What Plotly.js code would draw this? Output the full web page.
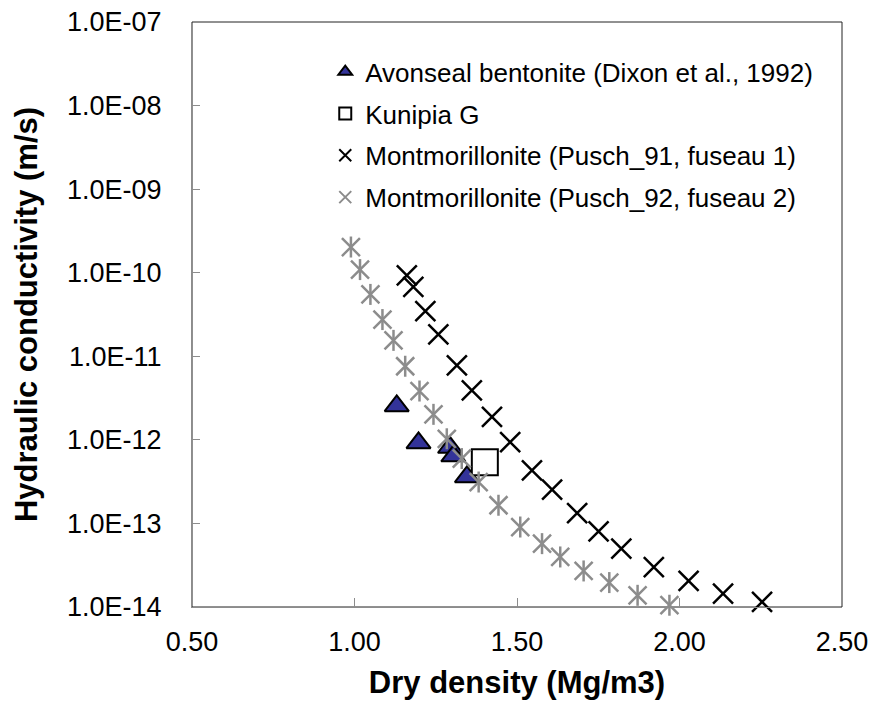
<!DOCTYPE html>
<html><head><meta charset="utf-8">
<script src="https://cdn.plot.ly/plotly-3.0.1.min.js"></script>
<style>body{margin:0;background:#fff}#chart{width:872px;height:702px}</style>
</head><body><div id="chart"></div>
<script>
// Avonseal bentonite (Dixon et al., 1992)
const avonsealDensity = [1.130, 1.197, 1.294, 1.304, 1.346];
const avonsealK = [2.55e-12, 9.2e-13, 8.1e-13, 6.4e-13, 3.6e-13];
// Kunipia G
const kunipiaDensity = [1.401];
const kunipiaK = [5.4e-13];
// Montmorillonite (Pusch_91, fuseau 1)
const pusch91Density = [1.161, 1.181, 1.218, 1.258, 1.315, 1.361, 1.423, 1.479, 1.546, 1.608, 1.685, 1.751, 1.821, 1.921, 2.028, 2.134, 2.254];
const pusch91K = [9.3e-11, 6.75e-11, 3.48e-11, 1.83e-11, 7.8e-12, 3.92e-12, 1.88e-12, 9.4e-13, 4.32e-13, 2.54e-13, 1.33e-13, 8.05e-14, 5.0e-14, 3.01e-14, 2.05e-14, 1.45e-14, 1.15e-14];
// Montmorillonite (Pusch_92, fuseau 2)
const pusch92Density = [0.989, 1.017, 1.049, 1.086, 1.120, 1.156, 1.200, 1.243, 1.284, 1.330, 1.382, 1.443, 1.510, 1.577, 1.633, 1.705, 1.784, 1.871, 1.969];
const pusch92K = [2.03e-10, 1.09e-10, 5.5e-11, 2.75e-11, 1.55e-11, 7.6e-12, 3.84e-12, 2.02e-12, 1.03e-12, 5.97e-13, 3.13e-13, 1.65e-13, 9.06e-14, 5.73e-14, 3.97e-14, 2.70e-14, 1.96e-14, 1.38e-14, 1.05e-14];

const seriesNames = ['Avonseal bentonite (Dixon et al., 1992)', 'Kunipia G', 'Montmorillonite (Pusch_91, fuseau 1)', 'Montmorillonite (Pusch_92, fuseau 2)'];
const yTickVals = [1e-7, 1e-8, 1e-9, 1e-10, 1e-11, 1e-12, 1e-13, 1e-14];
const yTickText = ['1.0E-07', '1.0E-08', '1.0E-09', '1.0E-10', '1.0E-11', '1.0E-12', '1.0E-13', '1.0E-14'];
const xTickVals = [0.5, 1.0, 1.5, 2.0, 2.5];
const xTickText = ['0.50', '1.00', '1.50', '2.00', '2.50'];

const FONT = 'Liberation Sans, Arial, sans-serif';
const GRAY = '#8c8c8c';

const traces = [
  {x: avonsealDensity, y: avonsealK, name: seriesNames[0], type: 'scatter', mode: 'markers', legendgroup: 'a',
   cliponaxis: false,
   marker: {symbol: 'triangle-up', size: 21, color: '#333399', line: {color: '#000', width: 2}}},
  {x: kunipiaDensity, y: kunipiaK, name: seriesNames[1], type: 'scatter', mode: 'markers', legendgroup: 'b',
   cliponaxis: false,
   marker: {symbol: 'square', size: 26, color: '#fff', line: {color: '#000', width: 2}}},
  {x: pusch91Density, y: pusch91K, name: seriesNames[2], type: 'scatter', mode: 'markers', legendgroup: 'c',
   cliponaxis: false,
   marker: {symbol: 'x-thin', size: 20, color: '#000', line: {color: '#000', width: 2.5}}},
  {x: pusch92Density, y: pusch92K, name: seriesNames[3], type: 'scatter', mode: 'markers', legendgroup: 'd',
   cliponaxis: false,
   marker: {symbol: 'x-thin', size: 18, color: GRAY, line: {color: GRAY, width: 2.5}}},
  {x: pusch92Density, y: pusch92K, name: seriesNames[3], type: 'scatter', mode: 'markers', legendgroup: 'd',
   showlegend: false, cliponaxis: false,
   marker: {symbol: 'line-ns', size: 15, color: GRAY, line: {color: GRAY, width: 2.5}}}
];

const layout = {
  width: 872, height: 702,
  margin: {l: 192, r: 30, t: 22, b: 95, pad: 0},
  paper_bgcolor: '#fff', plot_bgcolor: '#fff',
  font: {family: FONT, color: '#000'},
  showlegend: true,
  legend: {x: 0.205, y: 0.955, xanchor: 'left', yanchor: 'top', bgcolor: 'rgba(0,0,0,0)',
           font: {family: FONT, size: 26, color: '#000'}, tracegroupgap: 5, traceorder: 'grouped',
           itemsizing: 'constant'},
  xaxis: {
    type: 'linear', range: [0.5, 2.5], tickvals: xTickVals, ticktext: xTickText,
    ticks: 'inside', ticklen: 9, tickcolor: GRAY, tickwidth: 1,
    showline: true, linecolor: GRAY, linewidth: 1, showgrid: false, zeroline: false,
    tickfont: {family: FONT, size: 27, color: '#000'}, ticklabelstandoff: 11,
    title: {text: 'Dry density (Mg/m3)', font: {family: FONT, size: 31, color: '#000', weight: 'bold'}, standoff: 14}
  },
  yaxis: {
    type: 'log', range: [-14, -7], tickvals: yTickVals, ticktext: yTickText,
    ticks: 'inside', ticklen: 8, tickcolor: GRAY, tickwidth: 1,
    showline: true, linecolor: GRAY, linewidth: 1, showgrid: false, zeroline: false,
    tickfont: {family: FONT, size: 27, color: '#000'}, ticklabelstandoff: 24,
    title: {text: 'Hydraulic conductivity (m/s)', font: {family: FONT, size: 31, color: '#000', weight: 'bold'}, standoff: 20}
  },
  shapes: [{type: 'rect', xref: 'x domain', yref: 'y domain', x0: 0, x1: 1, y0: 0, y1: 1,
            line: {color: '#222', width: 1}, layer: 'below'}]
};

Plotly.newPlot('chart', traces, layout, {displayModeBar: false, staticPlot: true});
</script>
</body></html>
